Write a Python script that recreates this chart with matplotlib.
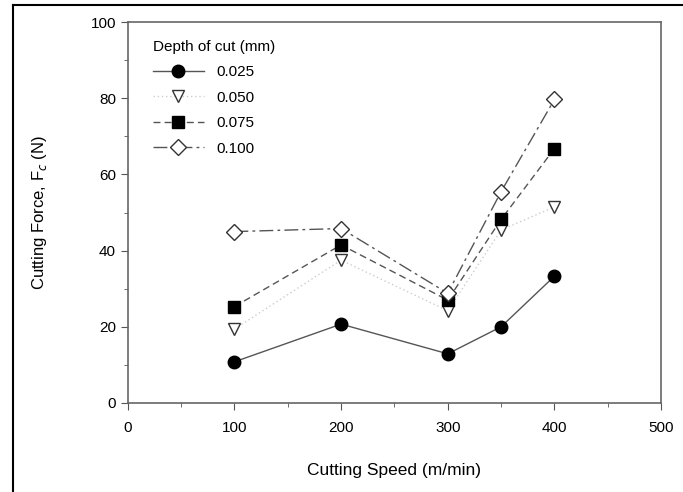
import matplotlib
matplotlib.use("Agg")
import matplotlib.pyplot as plt
from matplotlib.lines import Line2D
from matplotlib.ticker import MultipleLocator

plt.rcParams['font.family'] = ['Liberation Sans', 'DejaVu Sans']

speed = [100, 200, 300, 350, 400]
depths = ["0.025", "0.050", "0.075", "0.100"]
force_025 = [10.8, 20.7, 12.9, 20.0, 33.3]
force_050 = [19.4, 37.5, 24.2, 45.4, 51.5]
force_075 = [25.3, 41.5, 27.0, 48.2, 66.8]
force_100 = [45.0, 45.8, 28.8, 55.5, 79.7]

fig = plt.figure(figsize=(6.83, 4.92), dpi=100)
ax = fig.add_axes([0.187, 0.181, 0.781, 0.774])

# outer frame (left and top edges of the scanned figure)
fig.add_artist(Line2D([0.019, 0.019], [0.0, 0.99], color="black", lw=1.5,
                      transform=fig.transFigure))
fig.add_artist(Line2D([0.019, 1.0], [0.99, 0.99], color="black", lw=1.5,
                      transform=fig.transFigure))

line_col = "#555555"
styles = [
    dict(ls="-", marker="o", ms=9, mfc="black", mec="black", color=line_col),
    dict(ls=(0, (1, 2)), marker="v", ms=8.5, mfc="white", mec="#333333", color="#cccccc"),
    dict(ls=(0, (5, 3)), marker="s", ms=8.5, mfc="black", mec="black", color=line_col),
    dict(ls=(0, (10, 3, 2, 3)), marker="D", ms=8, mfc="white", mec="#333333", color=line_col),
]
series = [force_025, force_050, force_075, force_100]
for d, f, st in zip(depths, series, styles):
    ax.plot(speed, f, lw=1, mew=1, label=d, **st)

ax.set_xlim(0, 500)
ax.set_ylim(0, 100)
ax.xaxis.set_major_locator(MultipleLocator(100))
ax.xaxis.set_minor_locator(MultipleLocator(50))
ax.yaxis.set_major_locator(MultipleLocator(20))
ax.yaxis.set_minor_locator(MultipleLocator(10))
ax.tick_params(which="both", direction="out", color="#555555", labelsize=11)
ax.tick_params(which="major", length=5)
ax.tick_params(which="minor", length=3)
ax.tick_params(axis="x", pad=8)
for s in ax.spines.values():
    s.set_color("#666666")
    s.set_linewidth(1.2)

ax.set_xlabel("Cutting Speed (m/min)", fontsize=12.5, labelpad=20)
ax.set_ylabel("Cutting Force, F$_c$ (N)", fontsize=12, labelpad=30)

leg = ax.legend(title="Depth of cut (mm)", loc="upper left", frameon=False,
                fontsize=11, title_fontsize=11, handlelength=3.4,
                handletextpad=0.8, labelspacing=0.75, borderaxespad=0.0,
                bbox_to_anchor=(0.035, 0.97))
leg._legend_box.align = "left"

fig.savefig("out.png", dpi=100)
